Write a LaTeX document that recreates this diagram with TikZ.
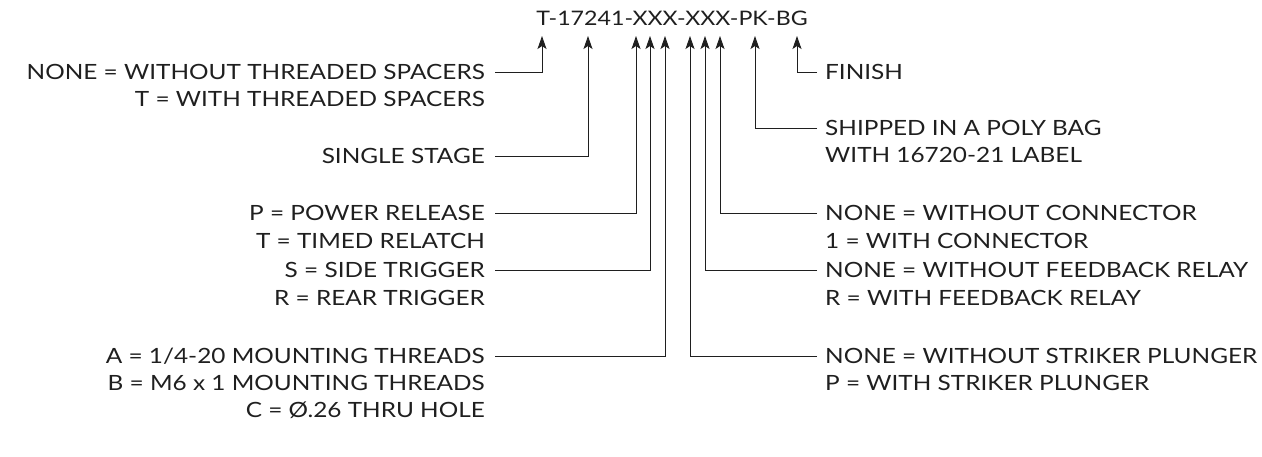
\documentclass[tikz,border=0pt]{standalone}
\usepackage{fontspec}
\setmainfont{Lato}[FakeStretch=1.16]
\usetikzlibrary{arrows.meta}
\begin{document}
\begin{tikzpicture}[x=1pt,y=-1pt,
  lbl/.style={inner sep=0pt,font=\fontsize{21}{21}\selectfont,text=black!88},
  lft/.style={lbl,anchor=east},
  rgt/.style={lbl,anchor=west},
  conn/.style={line width=0.9pt,black!88,-{Stealth[length=13pt,width=9pt,inset=3pt]}}]
\useasboundingbox (0,0) rectangle (1262,457);
\node[lbl,anchor=center,font=\fontsize{20}{20}\selectfont] (title) at (672,18) {T-17241-XXX-XXX-PK-BG};
\foreach \n/\x in {t1/542,t2/588,t3/636,t4/650,t5/665,t6/690,t7/705,t8/720,t9/755,t10/797}
  \coordinate (\n) at (\x,36);
% left labels
\node[lft] (a1) at (485,72) {NONE = WITHOUT THREADED SPACERS};
\node[lft] (a2) at (485,99) {T = WITH THREADED SPACERS};
\node[lft] (b1) at (485,156) {SINGLE STAGE};
\node[lft] (c1) at (485,213) {P = POWER RELEASE};
\node[lft] (c2) at (485,241) {T = TIMED RELATCH};
\node[lft] (d1) at (485,270) {S = SIDE TRIGGER};
\node[lft] (d2) at (485,298) {R = REAR TRIGGER};
\node[lft] (e1) at (485,356) {A = 1/4-20 MOUNTING THREADS};
\node[lft] (e2) at (485,383) {B = M6 x 1 MOUNTING THREADS};
\node[lft] (e3) at (485,410) {C = Ø.26 THRU HOLE};
% right labels
\node[rgt] (f1) at (825,72) {FINISH};
\node[rgt] (g1) at (825,128) {SHIPPED IN A POLY BAG};
\node[rgt] (g2) at (825,155) {WITH 16720-21 LABEL};
\node[rgt] (h1) at (825,213) {NONE = WITHOUT CONNECTOR};
\node[rgt] (h2) at (825,241) {1 = WITH CONNECTOR};
\node[rgt] (i1) at (825,270) {NONE = WITHOUT FEEDBACK RELAY};
\node[rgt] (i2) at (825,298) {R = WITH FEEDBACK RELAY};
\node[rgt] (j1) at (825,356) {NONE = WITHOUT STRIKER PLUNGER};
\node[rgt] (j2) at (825,383) {P = WITH STRIKER PLUNGER};
% connectors
\draw[conn] ([xshift=10pt]a1.east) -| (t1);
\draw[conn] ([xshift=10pt]b1.east) -| (t2);
\draw[conn] ([xshift=10pt]c1.east) -| (t3);
\draw[conn] ([xshift=10pt]d1.east) -| (t4);
\draw[conn] ([xshift=10pt]e1.east) -| (t5);
\draw[conn] ([xshift=-8pt]j1.west) -| (t6);
\draw[conn] ([xshift=-8pt]i1.west) -| (t7);
\draw[conn] ([xshift=-8pt]h1.west) -| (t8);
\draw[conn] ([xshift=-8pt]g1.west) -| (t9);
\draw[conn] ([xshift=-8pt]f1.west) -| (t10);
\end{tikzpicture}
\end{document}
